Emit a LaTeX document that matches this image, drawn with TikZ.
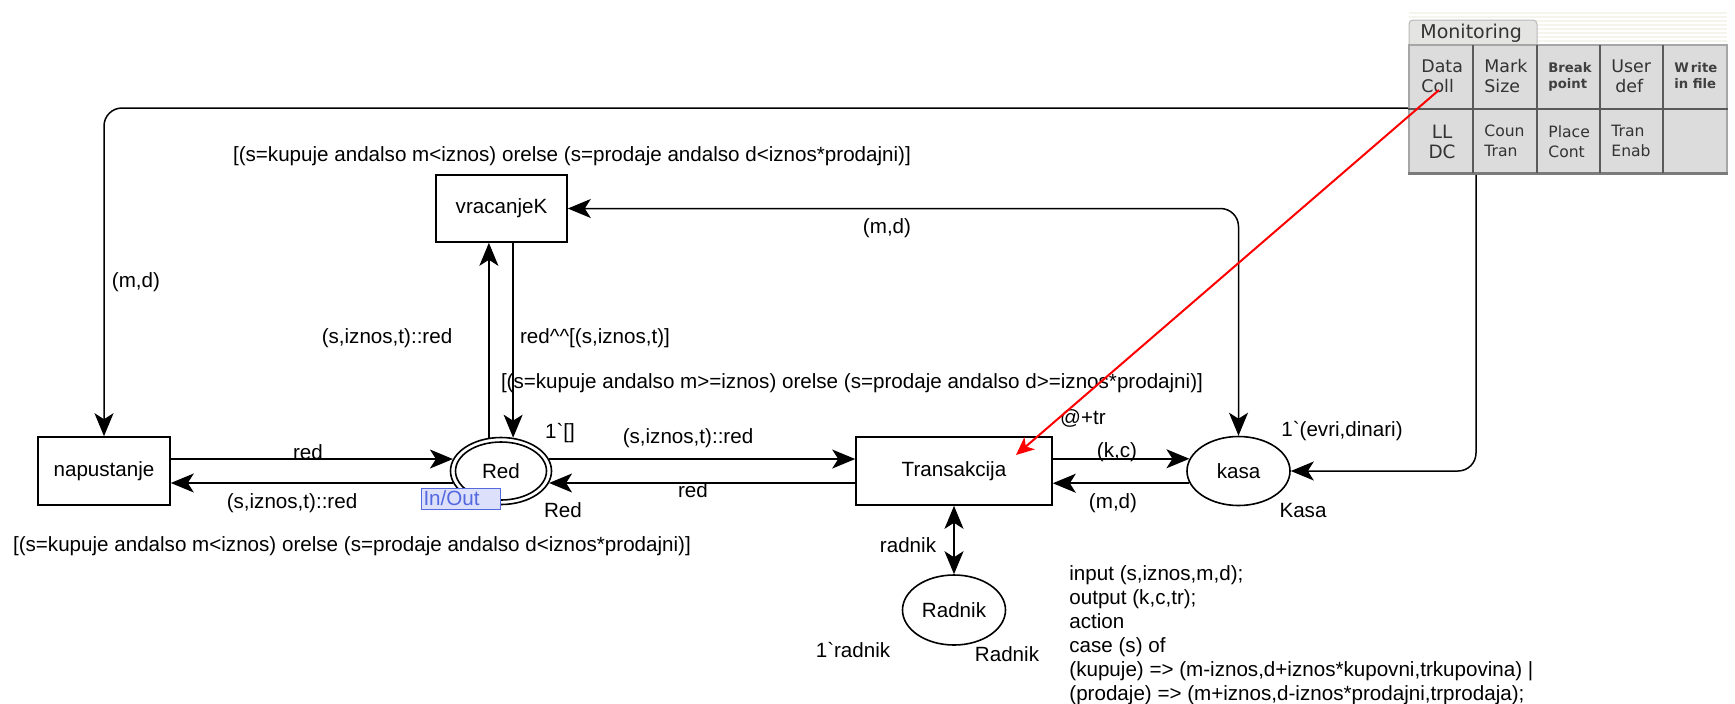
\documentclass[tikz,border=0pt]{standalone}
\usepackage{fontspec}
\setmainfont{Liberation Sans}
\newfontfamily\uifont{DejaVu Sans}
\usetikzlibrary{arrows.meta,shapes.geometric}

\definecolor{tagfill}{HTML}{DCE0FA}
\definecolor{tagline}{HTML}{5468E0}
\definecolor{panelgray}{HTML}{DCDCDC}
\definecolor{tabgray}{HTML}{E4E4E2}
\definecolor{celline}{HTML}{5A5A5A}
\definecolor{stripe}{HTML}{F5F5EE}

\tikzset{
  every node/.style={font=\fontsize{10.3}{12}\selectfont, inner sep=0pt},
  trans/.style={draw, line width=0.8pt, rectangle},
  place/.style={draw, line width=0.8pt, ellipse},
  tip/.tip={Stealth[length=11.5pt,width=9.5pt,inset=3pt]},
  arc/.style={line width=0.75pt, -tip},
  biarc/.style={line width=0.75pt, tip-tip},
  cell/.style={font=\uifont\fontsize{8.7}{10}\selectfont, align=left, anchor=north west, text=black!80},
  smallcell/.style={font=\uifont\bfseries\fontsize{6.6}{8}\selectfont, align=left, anchor=north west, text=black!75},
  pointer/.style={red, line width=1pt, -{Stealth[length=9pt,width=8pt,inset=2.5pt]}}
}

\begin{document}
\begin{tikzpicture}[x=0.5pt, y=-0.5pt]
\useasboundingbox (0,0) rectangle (1735,703);

% transitions
\node[trans, minimum width=66pt, minimum height=34pt] (nap) at (104,471) {napustanje};
\node[trans, minimum width=65.5pt, minimum height=33.5pt] (vk) at (501.5,208.5) {vracanjeK};
\node[trans, minimum width=98pt, minimum height=34pt] (tr) at (954,471) {Transakcija};

% places
\node[place, minimum width=50.5pt, minimum height=33.5pt] (red) at (501,471) {Red};
\draw[line width=0.8pt] (red.center) ellipse [x radius=22.75pt, y radius=14.5pt];
\node[place, minimum width=51.5pt, minimum height=34.5pt] (kasa) at (1238.5,471) {kasa};
\node[place, minimum width=51.5pt, minimum height=35pt] (rad) at (954,610) {Radnik};

% port tag of Red
\node[draw=tagline, fill=tagfill, text=tagline, line width=0.5pt, anchor=west,
      text width=37.5pt, inner xsep=1pt, minimum height=10.5pt] (io) at (421,498.5) {In/Out};

% arcs
\draw[arc] (nap.east |- red.166) -- (red.166);
\draw[arc] (red.194) -- (nap.east |- red.194);
\draw[arc] (red.110) -- (red.110 |- vk.south);
\draw[arc] (vk.south -| red.70) -- (red.70);
\draw[arc] (red.14) -- (tr.west |- red.14);
\draw[arc] (tr.west |- red.346) -- (red.346);
\draw[arc] (tr.east |- kasa.166) -- (kasa.166);
\draw[arc] (kasa.194) -- (tr.east |- kasa.194);
\draw[biarc] (tr.south) -- (rad.north);
\draw[biarc, rounded corners=9pt] (vk.east) -- (kasa.north |- vk.east) -- (kasa.north);
\coordinate (bend) at (1476,108);
\draw[biarc, rounded corners=9pt] (kasa.east) -- (bend |- kasa.east) -- (bend)
      -- (nap.north |- bend) -- (nap.north);

% inscriptions
\node (g1) at (572,156) {[(s=kupuje andalso m<iznos) orelse (s=prodaje andalso d<iznos*prodajni)]};
\node (g2) at (852,383) {[(s=kupuje andalso m>=iznos) orelse (s=prodaje andalso d>=iznos*prodajni)]};
\node (g3) at (352,546) {[(s=kupuje andalso m<iznos) orelse (s=prodaje andalso d<iznos*prodajni)]};
\node (a1) at (887,228) {(m,d)};
\node (a2) at (136,282) {(m,d)};
\node (a3) at (387,338) {(s,iznos,t)::red};
\node (a4) at (595,338) {red\textasciicircum\textasciicircum[(s,iznos,t)]};
\node (a5) at (308,452) {red};
\node (a6) at (292,503) {(s,iznos,t)::red};
\node (a7) at (688,438) {(s,iznos,t)::red};
\node (a8) at (693,490) {red};
\node (a9) at (1083,418) {@+tr};
\node (a10) at (1117,452) {(k,c)};
\node (a11) at (1113,503) {(m,d)};
\node (a12) at (908,545) {radnik};
\node (m1) at (560,433) {1\textasciigrave[]};
\node (m2) at (1342,431) {1\textasciigrave(evri,dinari)};
\node (m3) at (853,650) {1\textasciigrave radnik};
\node (c1) at (563,510) {Red};
\node (c2) at (1303,511) {Kasa};
\node (c3) at (1007,654) {Radnik};
\node[anchor=north west, align=left] (code) at (1069,565)
  {input (s,iznos,m,d);\\ output (k,c,tr);\\ action\\ case (s) of\\
   (kupuje) => (m-iznos,d+iznos*kupovni,trkupovina) |\\
   (prodaje) => (m+iznos,d-iznos*prodajni,trprodaja);};

% monitoring palette
\fill[stripe] (1409,12) rectangle (1727,45);
\foreach \yy in {15,19,...,43} \draw[white, line width=0.6pt] (1409,\yy) -- (1727,\yy);
\draw[fill=tabgray, draw=gray!55, line width=0.5pt, rounded corners=2pt]
  (1409,45) -- (1409,20) -- (1537,20) -- (1537,45);
\node[font=\uifont\fontsize{9.5}{11}\selectfont, anchor=west, text=black!80] (montab) at (1420,33) {Monitoring};
\node[fill=panelgray, draw=gray!70, line width=0.6pt, minimum width=159pt, minimum height=64pt] (mon) at (1568,109) {};
\draw[celline, line width=1pt] (mon.west) -- (mon.east);
\draw[celline!80, line width=1.2pt] (mon.south west) -- (mon.south east);
\foreach \xx in {1473,1537,1600,1663} \draw[celline, line width=1pt] (\xx,45) -- (\xx,173);
\node[cell] (b1) at (1421,59) {Data\\Coll};
\node[cell] (b2) at (1484,59) {Mark\\Size};
\node[smallcell] (b3) at (1548,62) {Break\\point};
\node[cell] (b4) at (1611,59) {User\\\hspace{2pt}def};
\node[smallcell] (b5) at (1674,62) {W\kern1pt rite\\in file};
\node[cell, font=\uifont\fontsize{9.2}{10}\selectfont, align=center, anchor=north] (b6) at (1442,125) {LL\\DC};
\node[cell, font=\uifont\fontsize{7.8}{10}\selectfont] (b7) at (1484,125) {Coun\\Tran};
\node[cell, font=\uifont\fontsize{7.8}{10}\selectfont] (b8) at (1548,125) {Place\\Cont};
\node[cell, font=\uifont\fontsize{7.8}{10}\selectfont] (b9) at (1611,125) {Tran\\Enab};

% data-collection pointer
\coordinate (dcpt) at (1439,90);
\coordinate (trpt) at (1016,455);
\draw[pointer] (dcpt) -- (trpt);
\end{tikzpicture}
\end{document}
